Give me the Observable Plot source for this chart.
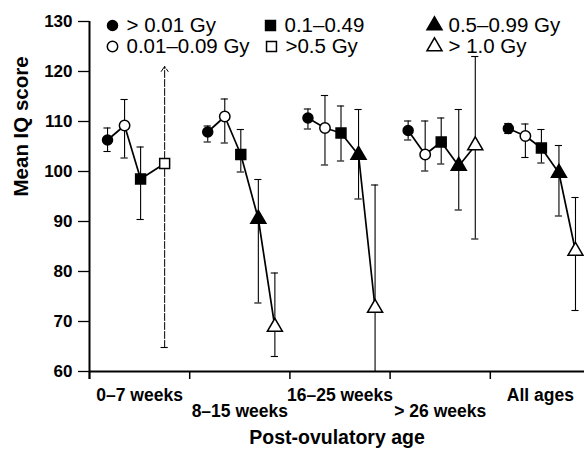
<!DOCTYPE html>
<html><head><meta charset="utf-8">
<script src="https://cdn.jsdelivr.net/npm/d3@7"></script>
<script src="https://cdn.jsdelivr.net/npm/@observablehq/plot@0.6"></script>
<style>body{margin:0;background:#fff}</style>
</head><body><div id="chart"></div>
<script>
// ---- data ----
const groups = ["0–7 weeks", "8–15 weeks", "16–25 weeks", "> 26 weeks", "All ages"];
const doseLevels = ["> 0.01 Gy", "0.01–0.09 Gy", "0.1–0.49", ">0.5 Gy", "0.5–0.99 Gy", "> 1.0 Gy"];
const groupDoses = [
  ["> 0.01 Gy", "0.01–0.09 Gy", "0.1–0.49", ">0.5 Gy"],
  ["> 0.01 Gy", "0.01–0.09 Gy", "0.1–0.49", "0.5–0.99 Gy", "> 1.0 Gy"],
  ["> 0.01 Gy", "0.01–0.09 Gy", "0.1–0.49", "0.5–0.99 Gy", "> 1.0 Gy"],
  ["> 0.01 Gy", "0.01–0.09 Gy", "0.1–0.49", "0.5–0.99 Gy", "> 1.0 Gy"],
  ["> 0.01 Gy", "0.01–0.09 Gy", "0.1–0.49", "0.5–0.99 Gy", "> 1.0 Gy"]
];
const meanIQ = [
  [106.3, 109.2, 98.5, 101.6],
  [107.9, 111.0, 103.4, 90.5, 68.9],
  [110.7, 108.7, 107.7, 103.3, 72.7],
  [108.2, 103.4, 105.9, 101.1, 105.2],
  [108.6, 107.1, 104.7, 99.7, 84.1]
];
const lowIQ = [
  [104.0, 102.7, 90.4, 64.8],
  [105.9, 105.7, 99.9, 73.7, 63.0],
  [108.5, 101.3, 102.1, 94.5, 60.0],
  [106.3, 100.1, 101.5, 92.3, 86.5],
  [107.6, 102.8, 101.7, 91.1, 72.2]
];
const highIQ = [
  [108.7, 114.4, 104.9, 121.0],
  [109.1, 114.5, 108.4, 98.4, 79.7],
  [112.5, 115.2, 113.1, 112.4, 97.3],
  [110.1, 110.1, 110.7, 112.4, 123.0],
  [109.6, 109.5, 108.4, 105.2, 94.8]
];
// upper limit not reached (drawn as an arrow)
const openUpper = [["0–7 weeks", ">0.5 Gy"]];
const yTicks = [60, 70, 80, 90, 100, 110, 120, 130];

// ---- styles / layout ----
const doseStyle = {
  "> 0.01 Gy":    {symbol: "circle",   filled: true,  r: 5},
  "0.01–0.09 Gy": {symbol: "circle",   filled: false, r: 5.2},
  "0.1–0.49":     {symbol: "square",   filled: true,  r: 5.6},
  ">0.5 Gy":      {symbol: "square",   filled: false, r: 5.6},
  "0.5–0.99 Gy":  {symbol: "triangle", filled: true,  r: 5.6},
  "> 1.0 Gy":     {symbol: "triangle", filled: false, r: 5.6}
};
const doseSlot = {"> 0.01 Gy": 0.18, "0.01–0.09 Gy": 0.35, "0.1–0.49": 0.51, ">0.5 Gy": 0.75, "0.5–0.99 Gy": 0.685, "> 1.0 Gy": 0.85};

const points = [];
groups.forEach((g, gi) => groupDoses[gi].forEach((dose, k) => points.push({
  group: g, gi, dose, mean: meanIQ[gi][k], low: lowIQ[gi][k], high: highIQ[gi][k],
  open: openUpper.some(([og, od]) => og === g && od === dose)
})));
const xPos = d => d.gi + doseSlot[d.dose];
const caps = [];
points.forEach(d => {
  if (d.low > 60) caps.push({...d, v: d.low});
  if (!d.open) caps.push({...d, v: d.high});
});
const capW = 0.036;

const font = "'Liberation Sans', Arial, Helvetica, sans-serif";
const legendItems = [
  {dose: "> 0.01 Gy", dx: 23, dy: 4},
  {dose: "0.01–0.09 Gy", dx: 23, dy: 25},
  {dose: "0.1–0.49", dx: 181, dy: 4},
  {dose: ">0.5 Gy", dx: 182, dy: 25},
  {dose: "0.5–0.99 Gy", dx: 345, dy: 4},
  {dose: "> 1.0 Gy", dx: 345, dy: 25}
];

const dotMarks = Object.entries(doseStyle).map(([dose, s]) =>
  Plot.dot(points.filter(p => p.dose === dose), {
    x: xPos, y: "mean", symbol: () => s.symbol, r: s.r,
    fill: s.filled ? "black" : "white", stroke: "black", strokeWidth: 1.5
  })
);
const legendMarks = legendItems.flatMap(it => {
  const s = doseStyle[it.dose];
  return [
    Plot.dot([it.dose], {frameAnchor: "top-left", dx: it.dx, dy: it.dy, symbol: () => s.symbol, r: s.r,
      fill: s.filled ? "black" : "white", stroke: "black", strokeWidth: 1.5}),
    Plot.text([it.dose], {frameAnchor: "top-left", dx: it.dx + 14, dy: it.dy, text: d => d,
      textAnchor: "start", lineAnchor: "middle", fontSize: 20.5, fill: "black"})
  ];
});

const chart = Plot.plot({
  width: 584, height: 452,
  marginLeft: 89, marginRight: 0, marginTop: 21, marginBottom: 81,
  style: {fontFamily: font, color: "black", background: "white"},
  x: {domain: [0, 4.94], axis: null},
  y: {domain: [60, 130], axis: null},
  symbol: {domain: ["circle", "square", "triangle"], range: ["circle", "square", "triangle"]},
  marks: [
    Plot.axisY({ticks: yTicks, tickSize: 11, tickPadding: 6, fontSize: 17, fontWeight: "bold", strokeWidth: 1.3}),
    Plot.axisX({ticks: [0, 1, 2, 3, 4], tickSize: 8, tickFormat: () => "", strokeWidth: 1.5}),
    Plot.ruleY([60], {strokeWidth: 2}),
    Plot.ruleX([0], {strokeWidth: 2, insetBottom: -8}),
    Plot.text(groups.map((label, gi) => ({label, gi})).filter(d => d.gi % 2 === 0),
      {x: d => d.gi + 0.5, y: () => 60, text: "label", dy: 23.5, fontSize: 17.5, fontWeight: "bold"}),
    Plot.text(groups.map((label, gi) => ({label, gi})).filter(d => d.gi % 2 === 1),
      {x: d => d.gi + 0.5, y: () => 60, text: "label", dy: 40, fontSize: 17.5, fontWeight: "bold"}),
    Plot.text(["Post-ovulatory age"], {frameAnchor: "bottom", dy: 72, fontSize: 19.5, fontWeight: "bold"}),
    Plot.text(["Mean IQ score"], {frameAnchor: "left", dx: -68, rotate: -90, fontSize: 20.5, fontWeight: "bold"}),
    Plot.ruleX(points.filter(d => !d.open), {x: xPos, y1: "low", y2: "high", strokeWidth: 1.1}),
    Plot.arrow(points.filter(d => d.open), {x1: xPos, x2: xPos, y1: "low", y2: "high",
      strokeWidth: 1, headLength: 9, headAngle: 70, strokeDasharray: "7,2"}),
    Plot.ruleY(caps, {y: "v", x1: d => xPos(d) - capW, x2: d => xPos(d) + capW, strokeWidth: 1.1}),
    Plot.line(points, {x: xPos, y: "mean", z: "group", stroke: "black", strokeWidth: 1.7}),
    ...dotMarks,
    ...legendMarks
  ]
});
document.getElementById("chart").append(chart);
</script>
</body></html>
